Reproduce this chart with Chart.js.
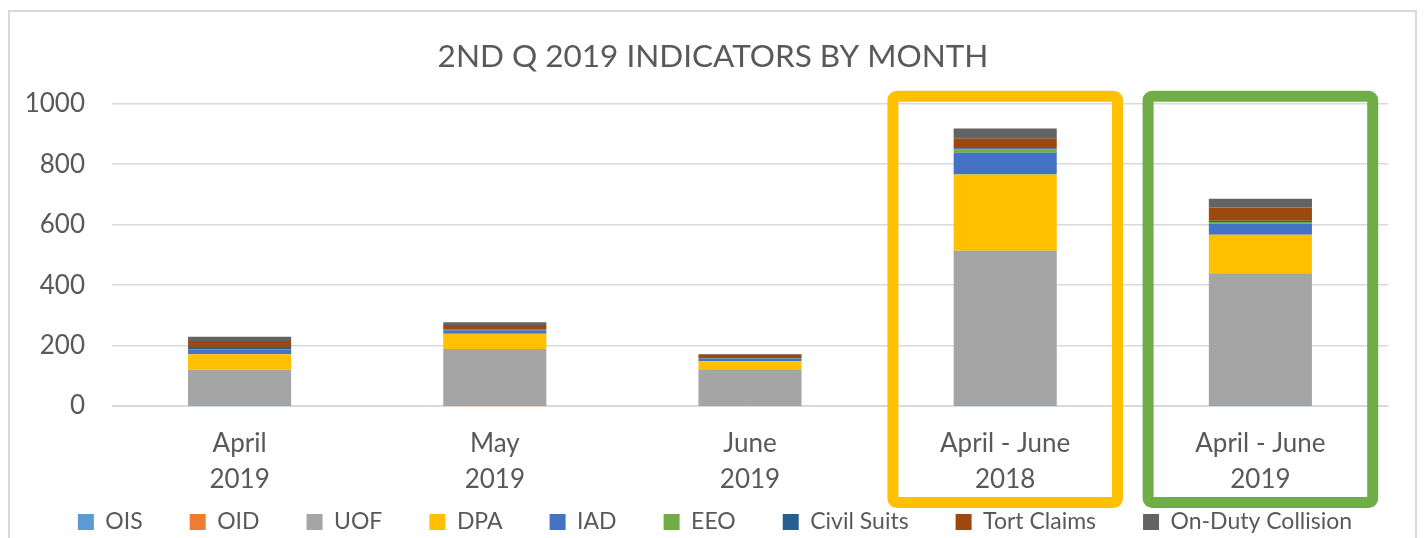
<!DOCTYPE html>
<html>
<head>
<meta charset="utf-8">
<script src="https://cdn.jsdelivr.net/npm/chart.js@4/dist/chart.umd.min.js"></script>
<style>
  html, body { margin: 0; padding: 0; background: #fff; }
  #wrap { width: 1425px; height: 538px; position: relative; }
</style>
</head>
<body>
<div id="wrap"><canvas id="myChart" width="1425" height="538"></canvas></div>
<script>
// categories and series
var periods = [['April', '2019'], ['May', '2019'], ['June', '2019'], ['April - June', '2018'], ['April - June', '2019']];
var ois = [1, 1, 0, 1, 1];
var oid = [1, 0, 1, 1, 1];
var uof = [118, 188, 121, 512, 437];
var dpa = [51, 50, 26, 252, 128];
var iad = [17, 12, 8, 72, 37];
var eeo = [1, 1, 1, 12, 5];
var civilSuits = [6, 3, 2, 3, 4];
var tortClaims = [20, 13, 11, 31, 44];
var collision = [14, 9, 2, 34, 29];
var yTicks = [0, 200, 400, 600, 800, 1000];

var textColor = '#595959';
var fontFamily = 'Lato, "Open Sans", sans-serif';

// frame around the whole chart
var framePlugin = {
    id: 'frame',
    beforeDraw: function (chart) {
        var ctx = chart.ctx;
        ctx.save();
        ctx.strokeStyle = '#d9d9d9';
        ctx.lineWidth = 2;
        ctx.strokeRect(9, 11, 1407, 540);
        ctx.restore();
    }
};

// pull the legend up under the two-line category labels, centre legend and title on the page
var legendShift = {
    id: 'legendShift',
    afterLayout: function (chart) {
        chart.legend.top -= 37.5;
        chart.legend.bottom -= 37.5;
        chart.legend.left += 16;
        chart.legend.right += 16;
        chart.titleBlock.left += 14;
        chart.titleBlock.right += 14;
    }
};

// highlight boxes around the two quarter totals
var highlightPlugin = {
    id: 'highlight',
    afterDatasetsDraw: function (chart) {
        var ctx = chart.ctx;
        var x = chart.scales.x;
        var y = chart.scales.y;
        var half = (x.width / periods.length) * 0.44;
        var top = y.getPixelForValue(1000) - 7.5;
        var bottom = chart.chartArea.bottom + 96.5;
        var boxes = [[3, '#FFC000'], [4, '#70AD47']];
        boxes.forEach(function (b) {
            var cx = x.getPixelForValue(b[0]);
            ctx.save();
            ctx.strokeStyle = b[1];
            ctx.lineWidth = 11;
            ctx.lineJoin = 'round';
            ctx.beginPath();
            ctx.roundRect(cx - half, top, half * 2, bottom - top, 4);
            ctx.stroke();
            ctx.restore();
        });
    }
};

function ds(label, data, color) {
    return {
        label: label,
        data: data,
        backgroundColor: color,
        borderColor: color,
        borderWidth: 0,
        categoryPercentage: 1,
        barPercentage: 0.404
    };
}

var ctx = document.getElementById('myChart').getContext('2d');
var myChart = new Chart(ctx, {
    type: 'bar',
    data: {
        labels: periods,
        datasets: [
            ds('OIS', ois, '#5B9BD5'),
            ds('OID', oid, '#ED7D31'),
            ds('UOF', uof, '#A5A5A5'),
            ds('DPA', dpa, '#FFC000'),
            ds('IAD', iad, '#4472C4'),
            ds('EEO', eeo, '#70AD47'),
            ds('Civil Suits', civilSuits, '#255E91'),
            ds('Tort Claims', tortClaims, '#9E480E'),
            ds('On-Duty Collision', collision, '#636363')
        ]
    },
    options: {
        responsive: false,
        animation: false,
        layout: { padding: { left: 10, right: 37, top: 38, bottom: -43 } },
        plugins: {
            title: {
                display: true,
                text: '2ND Q 2019 INDICATORS BY MONTH',
                color: textColor,
                font: { family: fontFamily, size: 31.5, weight: 'normal' },
                padding: { top: 0, bottom: 28 }
            },
            legend: {
                position: 'bottom',
                labels: {
                    color: textColor,
                    font: { family: fontFamily, size: 23 },
                    boxWidth: 16,
                    boxHeight: 16,
                    padding: 47
                }
            },
            tooltip: { enabled: false }
        },
        scales: {
            x: {
                stacked: true,
                grid: { display: false, drawTicks: false },
                border: { color: '#d9d9d9' },
                afterFit: function (axis) { axis.height = 95; },
                ticks: {
                    color: textColor,
                    font: { family: fontFamily, size: 26, lineHeight: 1.385 },
                    maxRotation: 0,
                    padding: 20
                }
            },
            y: {
                stacked: true,
                min: 0,
                max: 1000,
                afterBuildTicks: function (axis) {
                    axis.ticks = yTicks.map(function (v) { return { value: v }; });
                },
                afterFit: function (axis) { axis.width = 102; },
                grid: { color: '#d9d9d9', lineWidth: 1.5, drawTicks: false },
                border: { display: false },
                ticks: {
                    color: textColor,
                    font: { family: fontFamily, size: 26 },
                    padding: 27,
                    callback: function (v) { return String(v); }
                }
            }
        }
    },
    plugins: [framePlugin, legendShift, highlightPlugin]
});
</script>
</body>
</html>
